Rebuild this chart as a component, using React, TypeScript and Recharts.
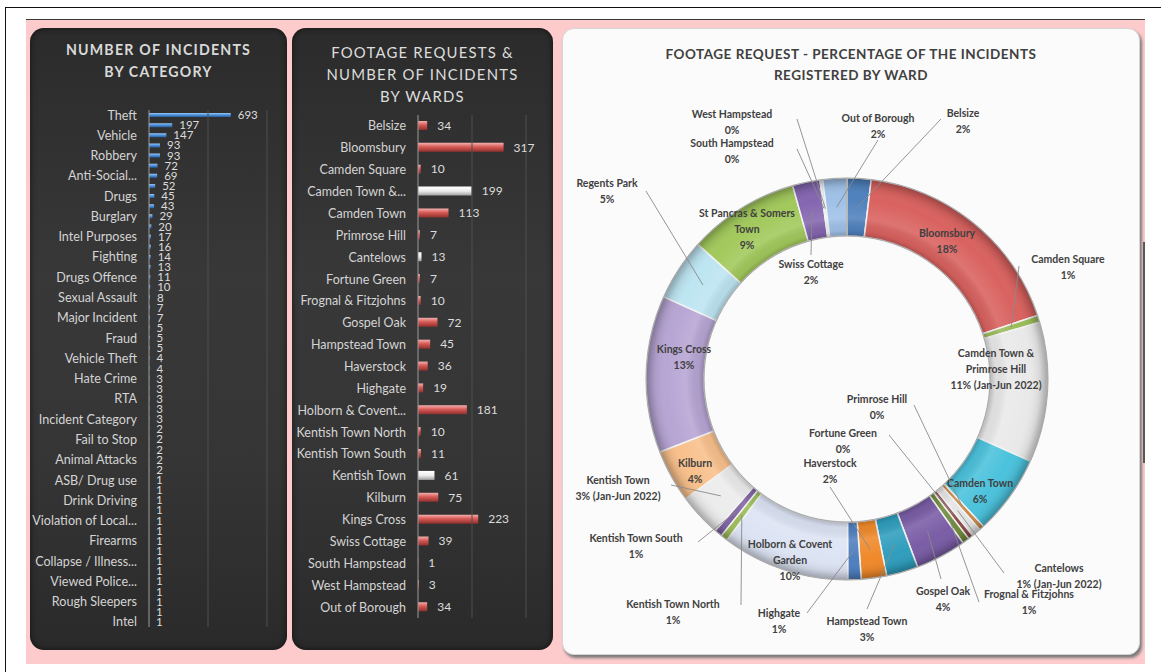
import React from 'react';
import { BarChart, Bar, XAxis, YAxis, LabelList, ReferenceLine, PieChart, Pie, Cell } from 'recharts';

// ---------- DATA ----------
const categoryNames = [
  'Theft', 'Assault', 'Vehicle', 'Criminal Damage', 'Robbery', 'Public Order', 'Anti-Social...', 'Missing Person',
  'Drugs', 'Suspicious Activity', 'Burglary', 'Disorder', 'Intel Purposes', 'Harassment', 'Fighting', 'Domestic',
  'Drugs Offence', 'Trespass', 'Sexual Assault', 'Weapons', 'Major Incident', 'Stalking', 'Fraud', 'Arson',
  'Vehicle Theft', 'Vandalism', 'Hate Crime', 'Shoplifting', 'RTA', 'Graffiti', 'Incident Category', 'Noise',
  'Fail to Stop', 'Begging', 'Animal Attacks', 'Kidnap', 'ASB/ Drug use', 'Fly Tipping', 'Drink Driving',
  'Concern for Welfare', 'Violation of Local...', 'Lost Property', 'Firearms', 'Protest', 'Collapse / Illness...',
  'Threats', 'Viewed Police...', 'Counterfeit', 'Rough Sleepers', 'Other', 'Intel',
];
const categoryValues = [
  693, 197, 147, 93, 93, 72, 69, 52, 45, 43, 29, 20, 17, 16, 14, 13, 11, 10, 8, 7, 7, 5, 5, 5, 4, 4, 3, 3, 3, 3,
  3, 2, 2, 2, 2, 2, 1, 1, 1, 1, 1, 1, 1, 1, 1, 1, 1, 1, 1, 1, 1,
];

const wardNames = [
  'Belsize', 'Bloomsbury', 'Camden Square', 'Camden Town &...', 'Camden Town', 'Primrose Hill', 'Cantelows',
  'Fortune Green', 'Frognal & Fitzjohns', 'Gospel Oak', 'Hampstead Town', 'Haverstock', 'Highgate',
  'Holborn & Covent...', 'Kentish Town North', 'Kentish Town South', 'Kentish Town', 'Kilburn', 'Kings Cross',
  'Swiss Cottage', 'South Hampstead', 'West Hampstead', 'Out of Borough',
];
const wardValues = [34, 317, 10, 199, 113, 7, 13, 7, 10, 72, 45, 36, 19, 181, 10, 11, 61, 75, 223, 39, 1, 3, 34];
const partialPeriodWards = ['Camden Town &...', 'Cantelows', 'Kentish Town'];

const pieWards = [
  'Belsize', 'Bloomsbury', 'Camden Square', 'Camden Town &\nPrimrose Hill', 'Camden Town', 'Primrose Hill',
  'Cantelows', 'Fortune Green', 'Frognal & Fitzjohns', 'Gospel Oak', 'Hampstead Town', 'Haverstock', 'Highgate',
  'Holborn & Covent\nGarden', 'Kentish Town North', 'Kentish Town South', 'Kentish Town', 'Kilburn', 'Kings Cross',
  'Regents Park', 'St Pancras & Somers\nTown', 'Swiss Cottage', 'South Hampstead', 'West Hampstead', 'Out of Borough',
];
const pieValues = [34, 317, 10, 199, 113, 7, 13, 7, 10, 72, 45, 36, 19, 181, 10, 11, 61, 75, 223, 88, 158, 39, 1, 3, 34];
const piePeriodNote = ['', '', '', ' (Jan-Jun 2022)', '', '', ' (Jan-Jun 2022)', '', '', '', '', '', '', '', '', '',
  ' (Jan-Jun 2022)', '', '', '', '', '', '', '', ''];

// ---------- STYLE ----------
const pieColors = [
  '#4F81BD', '#D9625F', '#9BBB59', '#E9E9E9', '#4BC2DC', '#C98A4A', '#E4E4E4', '#8E4A48', '#6F8A3A', '#7A5DA6',
  '#2F9EBD', '#F0892A', '#4F7FBF', '#DCE3F3', '#9BBB59', '#8064A2', '#ECECEC', '#F9C08C', '#B7A5D4', '#BDE5F2',
  '#A2C95C', '#8466B0', '#A9C6E8', '#B9D2EE', '#9FC1E8',
];
// label placement (offsets from donut centre) and leader line start, style only
const LO = -3;
const pieLabelPos: { dx: number; dy: number; lx?: number; ly?: number }[] = [
  { dx: 119, dy: -263, lx: 97, ly: -257 },
  { dx: 103, dy: -143 },
  { dx: 224, dy: -117, lx: 175, ly: -110 },
  { dx: 152, dy: -23 },
  { dx: 136, dy: 107 },
  { dx: 33, dy: 23, lx: 70, ly: 29 },
  { dx: 215, dy: 192, lx: 160, ly: 197 },
  { dx: -1, dy: 57, lx: 45, ly: 59 },
  { dx: 185, dy: 218, lx: 135, ly: 226 },
  { dx: 99, dy: 215, lx: 97, ly: 203 },
  { dx: 23, dy: 245, lx: 23, ly: 233 },
  { dx: -14, dy: 87, lx: -14, ly: 111 },
  { dx: -65, dy: 237, lx: -37, ly: 237 },
  { dx: -54, dy: 168 },
  { dx: -171, dy: 228, lx: -103, ly: 229 },
  { dx: -208, dy: 162, lx: -146, ly: 166 },
  { dx: -226, dy: 104, lx: -173, ly: 109 },
  { dx: -149, dy: 87 },
  { dx: -160, dy: -27 },
  { dx: -237, dy: -193, lx: -198, ly: -185 },
  { dx: -97, dy: -163 },
  { dx: -33, dy: -112, lx: -33, ly: -121 },
  { dx: -112, dy: -233, lx: -47, ly: -227 },
  { dx: -112, dy: -262, lx: -47, ly: -257 },
  { dx: 34, dy: -258, lx: 34, ly: -236 },
];

const FONT = 'Lato, "Open Sans", sans-serif';

const categoryData = categoryNames.map((name, i) => ({ name, value: categoryValues[i] }));
const wardData = wardNames.map((name, i) => ({ name, value: wardValues[i] }));
const pieData = pieWards.map((name, i) => ({ name, value: pieValues[i] }));
const ringShade = [{ name: 'ring', value: 1 }];

const RAD = Math.PI / 180;

const makeTick = (fontSize: number, gap: number) => (props: any) => {
  const { x, y, payload } = props;
  return (
    <text x={x - gap} y={y} textAnchor="end" dominantBaseline="central" fill="#d4d4d4"
      fontSize={fontSize} fontFamily={FONT}>
      {payload.value}
    </text>
  );
};

const renderPieLabel = (props: any) => {
  const { cx, cy, midAngle, innerRadius, outerRadius, percent, index } = props;
  const pos = pieLabelPos[index];
  const lines = pieWards[index].split('\n');
  lines.push(`${Math.round(percent * 100)}%${piePeriodNote[index]}`);
  const tx = cx + pos.dx + LO;
  const ty = cy + pos.dy + LO;
  let leader = null;
  if (pos.lx !== undefined && pos.ly !== undefined) {
    const r = (innerRadius + outerRadius) / 2;
    const ex = cx + r * Math.cos(-midAngle * RAD);
    const ey = cy + r * Math.sin(-midAngle * RAD);
    leader = <line x1={cx + pos.lx + LO} y1={cy + pos.ly + LO} x2={ex} y2={ey} stroke="#8a8a8a" strokeWidth={0.9} />;
  }
  return (
    <g key={`pl-${index}`}>
      {leader}
      <text x={tx} y={ty} textAnchor="middle" dominantBaseline="central" fontFamily={FONT} fontSize={10.5}
        fontWeight={700} fill="#404040">
        {lines.map((l, i) => (
          <tspan key={i} x={tx} dy={i === 0 ? 0 : 16}>{l}</tspan>
        ))}
      </text>
    </g>
  );
};

const darkPanel: React.CSSProperties = {
  position: 'absolute',
  top: 28,
  height: 622,
  borderRadius: 14,
  background: 'linear-gradient(180deg, #2b2b2b 0%, #383838 40%, #353535 70%, #2a2a2a 100%)',
  boxShadow: 'inset 0 0 6px rgba(0,0,0,0.6)',
  overflow: 'hidden',
};

export default function App() {
  return (
    <div style={{ position: 'absolute', left: 0, top: 0, width: 1161, height: 672, background: '#ffffff', overflow: 'hidden', fontFamily: FONT }}>
      <svg width={0} height={0} style={{ position: 'absolute' }}>
        <defs>
          <linearGradient id="blueBar" x1="0" y1="0" x2="0" y2="1">
            <stop offset="0%" stopColor="#9cc8f2" />
            <stop offset="50%" stopColor="#4a8fdc" />
            <stop offset="100%" stopColor="#2a5e9c" />
          </linearGradient>
          <linearGradient id="redBar" x1="0" y1="0" x2="0" y2="1">
            <stop offset="0%" stopColor="#f4b0ae" />
            <stop offset="45%" stopColor="#d85a56" />
            <stop offset="100%" stopColor="#8e302d" />
          </linearGradient>
          <linearGradient id="whiteBar" x1="0" y1="0" x2="0" y2="1">
            <stop offset="0%" stopColor="#ffffff" />
            <stop offset="50%" stopColor="#ececec" />
            <stop offset="100%" stopColor="#a0a0a0" />
          </linearGradient>
          <radialGradient id="ringShade" cx="0.5" cy="0.5" r="0.5">
            <stop offset="0.71" stopColor="#000" stopOpacity={0.22} />
            <stop offset="0.74" stopColor="#000" stopOpacity={0.05} />
            <stop offset="0.80" stopColor="#fff" stopOpacity={0.12} />
            <stop offset="0.90" stopColor="#fff" stopOpacity={0.0} />
            <stop offset="0.96" stopColor="#000" stopOpacity={0.08} />
            <stop offset="1" stopColor="#000" stopOpacity={0.3} />
          </radialGradient>
        </defs>
      </svg>

      {/* outer frame */}
      <div style={{ position: 'absolute', left: 5, top: 7, width: 1160, height: 670, borderTop: '1.5px solid #111', borderLeft: '1.5px solid #111' }} />
      {/* pink backdrop */}
      <div style={{ position: 'absolute', left: 26, top: 19, width: 1119, height: 644, background: '#FDCBCB', borderTop: '1px solid #3a3a3a' }} />
      <div style={{ position: 'absolute', left: 1143, top: 242, width: 1.5, height: 221, background: '#555' }} />

      {/* Panel 1 */}
      <div style={{ ...darkPanel, left: 30, width: 257 }}>
        <div style={{ position: 'absolute', left: 0, top: 11, width: 257, textAlign: 'center', color: '#d9d9d9', fontWeight: 700, fontSize: 14.2, letterSpacing: 1.2, lineHeight: '22px' }}>
          NUMBER OF INCIDENTS<br />BY CATEGORY
        </div>
        <div style={{ position: 'absolute', left: 0, top: 0 }}>
          <BarChart width={257} height={622} layout="vertical" data={categoryData}
            margin={{ top: 82, right: 20, bottom: 23, left: 0 }} barCategoryGap={3}>
            <XAxis type="number" domain={[0, 1000]} ticks={[0, 500, 1000]} hide />
            <YAxis type="category" dataKey="name" width={119} interval={1} tickLine={false}
              axisLine={{ stroke: '#9a9a9a' }} tick={makeTick(12.6, 4)} />
            <ReferenceLine x={500} stroke="#4e4e4e" />
            <ReferenceLine x={1000} stroke="#4e4e4e" />
            <Bar dataKey="value" fill="url(#blueBar)" barSize={4} isAnimationActive={false}>
              <LabelList dataKey="value" position="right" offset={7} fill="#dcdcdc" fontSize={11.5} fontFamily={FONT} />
            </Bar>
          </BarChart>
        </div>
      </div>

      {/* Panel 2 */}
      <div style={{ ...darkPanel, left: 292, width: 261 }}>
        <div style={{ position: 'absolute', left: 0, top: 13, width: 261, textAlign: 'center', color: '#dcdcdc', fontWeight: 400, fontSize: 14.9, letterSpacing: 1.2, lineHeight: '22px' }}>
          FOOTAGE REQUESTS &amp;<br />NUMBER OF INCIDENTS<br />BY WARDS
        </div>
        <div style={{ position: 'absolute', left: 0, top: 0 }}>
          <BarChart width={261} height={622} layout="vertical" data={wardData}
            margin={{ top: 87, right: 27, bottom: 32, left: 0 }}>
            <XAxis type="number" domain={[0, 400]} ticks={[0, 200, 400]} hide />
            <YAxis type="category" dataKey="name" width={126} interval={0} tickLine={false}
              axisLine={{ stroke: '#9a9a9a' }} tick={makeTick(12.5, 4)} />
            <ReferenceLine x={200} stroke="#4e4e4e" />
            <ReferenceLine x={400} stroke="#4e4e4e" />
            <Bar dataKey="value" barSize={9} isAnimationActive={false}>
              {wardData.map((d, i) => (
                <Cell key={i} fill={partialPeriodWards.includes(d.name) ? 'url(#whiteBar)' : 'url(#redBar)'} />
              ))}
              <LabelList dataKey="value" position="right" offset={10} fill="#dcdcdc" fontSize={12} fontFamily={FONT} />
            </Bar>
          </BarChart>
        </div>
      </div>

      {/* Panel 3 */}
      <div style={{ position: 'absolute', left: 562, top: 28, width: 576, height: 625, borderRadius: 12, background: '#fbfbfb', border: '1px solid #d6d6d6', boxShadow: '2px 3px 3px #7a7a7a', overflow: 'hidden' }}>
        <div style={{ position: 'absolute', left: 0, top: 15, width: 576, textAlign: 'center', color: '#404040', fontWeight: 700, fontSize: 13.5, letterSpacing: 0.5, lineHeight: '21px' }}>
          FOOTAGE REQUEST - PERCENTAGE OF THE INCIDENTS<br />REGISTERED BY WARD
        </div>
        <div style={{ position: 'absolute', left: 0, top: 0 }}>
          <PieChart width={576} height={625}>
            <Pie data={pieData} dataKey="value" nameKey="name" cx={279} cy={345} innerRadius={143} outerRadius={201}
              startAngle={90} endAngle={-270} stroke="#f2f2f2" strokeWidth={1.5} isAnimationActive={false}
              label={renderPieLabel} labelLine={false}>
              {pieData.map((d, i) => (
                <Cell key={i} fill={pieColors[i]} />
              ))}
            </Pie>
            <Pie data={ringShade} dataKey="value" cx={279} cy={345} innerRadius={143} outerRadius={201}
              startAngle={90} endAngle={-270} stroke="#a8a8a8" strokeWidth={1} fill="url(#ringShade)"
              isAnimationActive={false} />
          </PieChart>
        </div>
      </div>
    </div>
  );
}
